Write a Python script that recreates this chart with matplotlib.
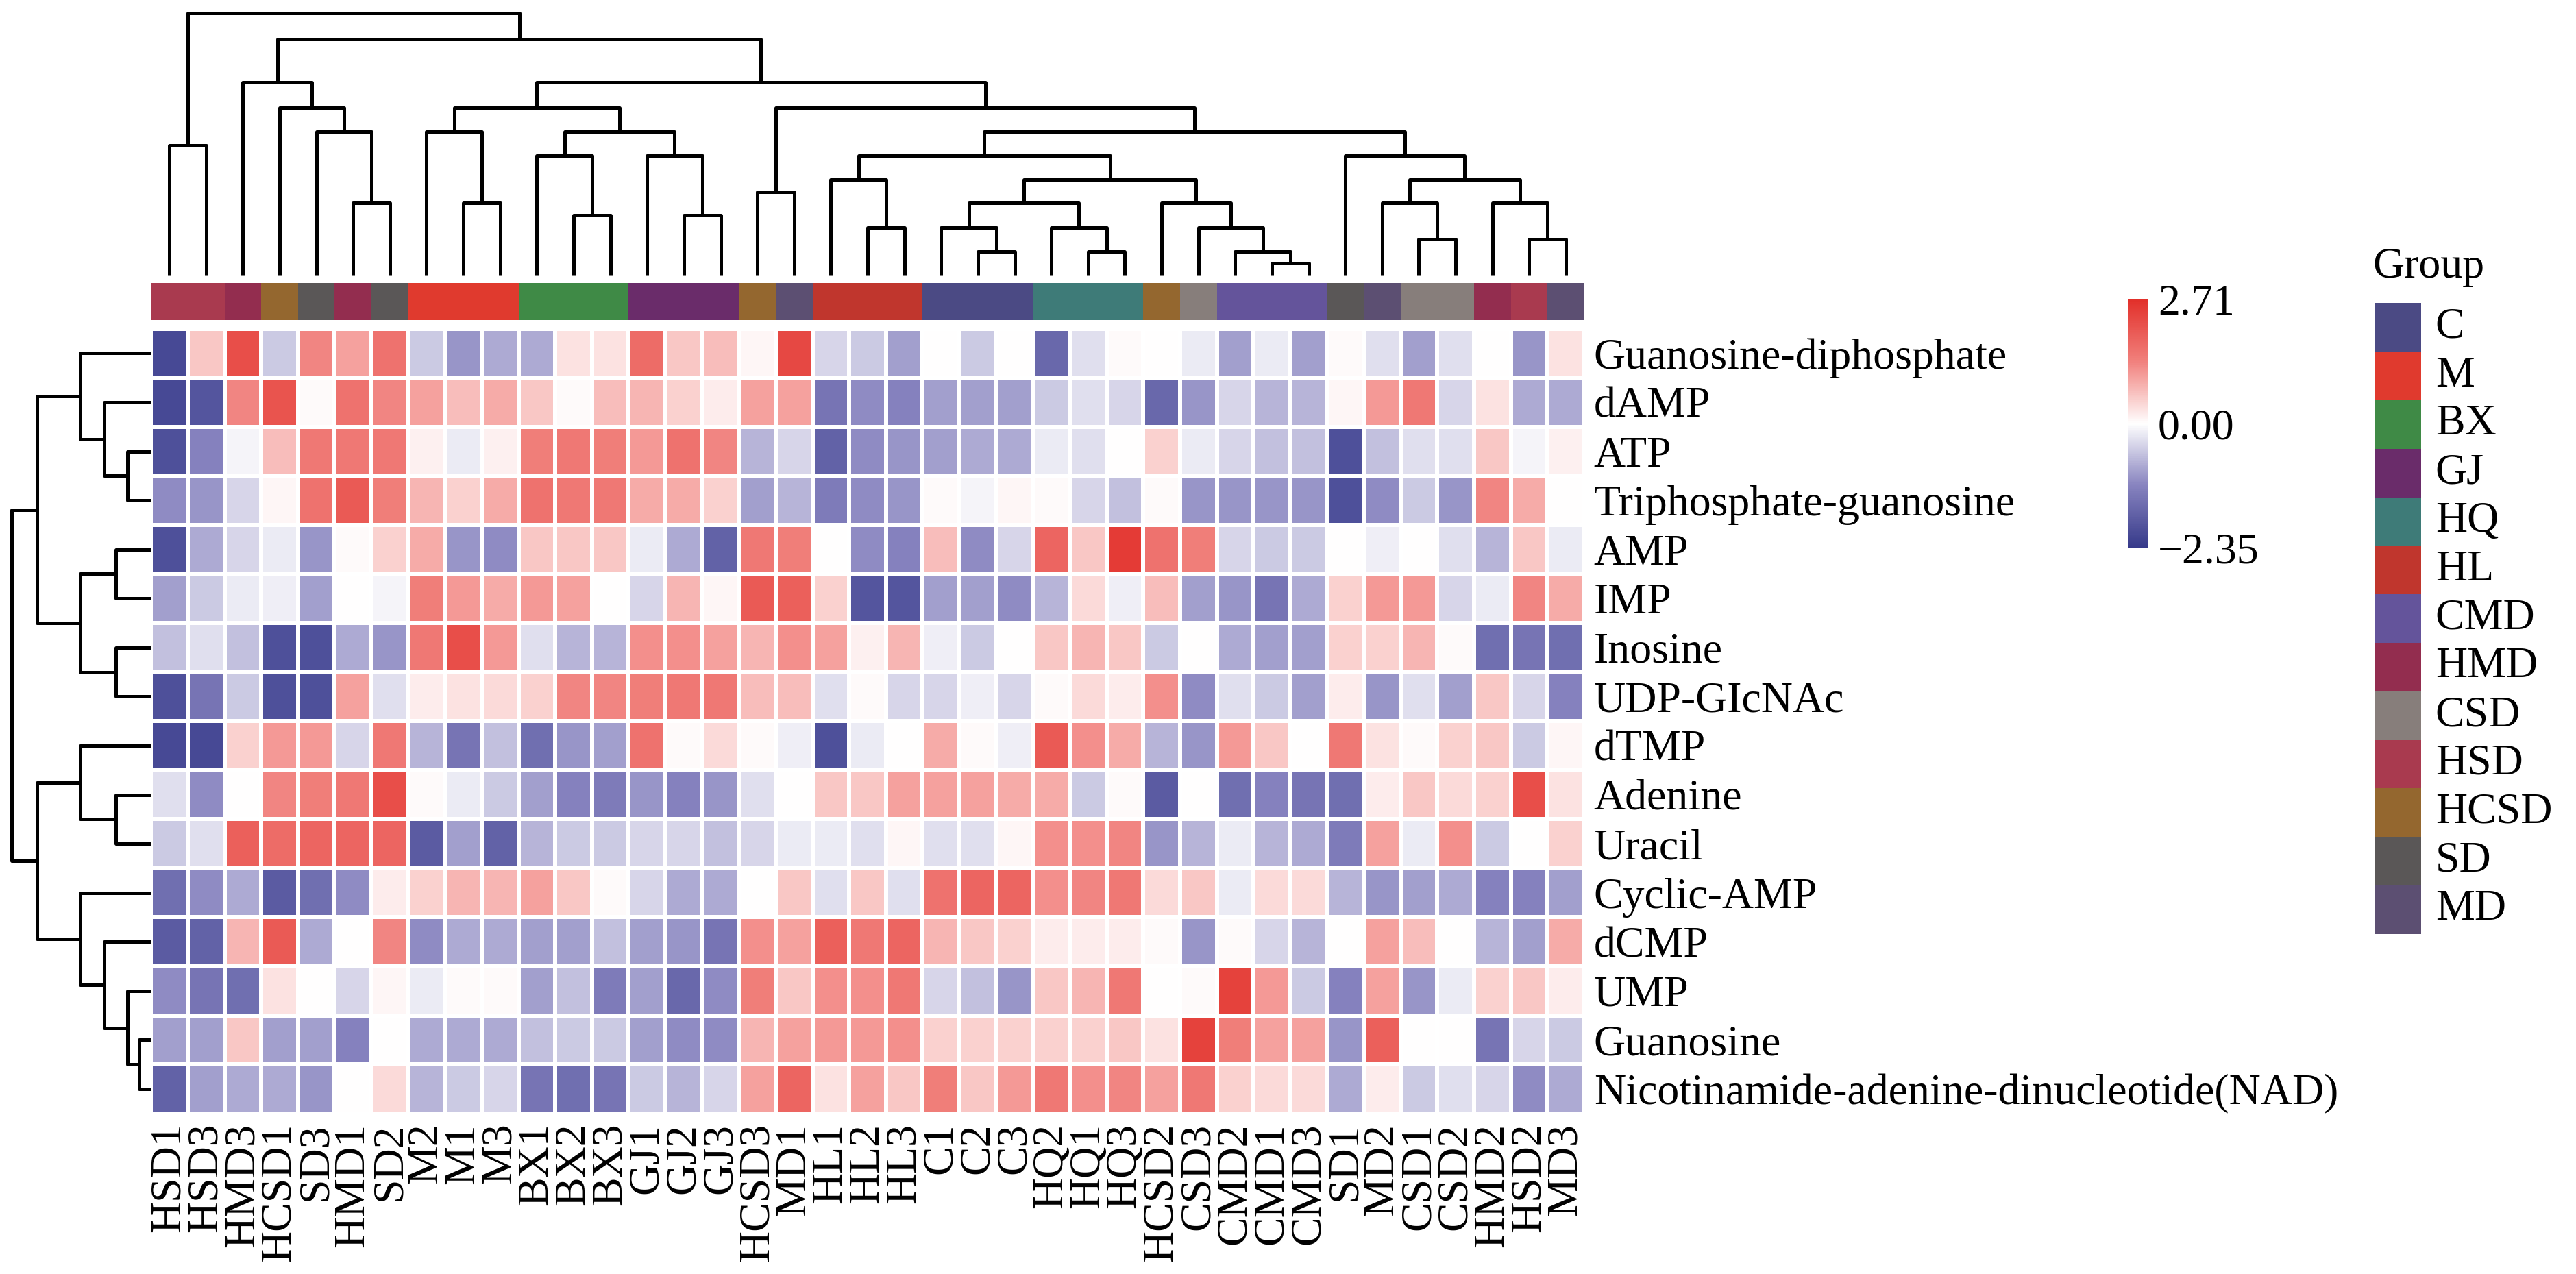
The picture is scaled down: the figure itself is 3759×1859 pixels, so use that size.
import numpy as np
import matplotlib
matplotlib.use("Agg")
import matplotlib.pyplot as plt
from matplotlib.colors import LinearSegmentedColormap, TwoSlopeNorm, ListedColormap

plt.rcParams['font.family'] = ['Liberation Serif', 'DejaVu Serif']

# samples (columns) in dendrogram order and their group
samples = ["HSD1", "HSD3", "HMD3", "HCSD1", "SD3", "HMD1", "SD2", "M2", "M1", "M3",
           "BX1", "BX2", "BX3", "GJ1", "GJ2", "GJ3", "HCSD3", "MD1", "HL1", "HL2",
           "HL3", "C1", "C2", "C3", "HQ2", "HQ1", "HQ3", "HCSD2", "CSD3", "CMD2",
           "CMD1", "CMD3", "SD1", "MD2", "CSD1", "CSD2", "HMD2", "HSD2", "MD3"]
sample_group = ["HSD", "HSD", "HMD", "HCSD", "SD", "HMD", "SD", "M", "M", "M",
                "BX", "BX", "BX", "GJ", "GJ", "GJ", "HCSD", "MD", "HL", "HL",
                "HL", "C", "C", "C", "HQ", "HQ", "HQ", "HCSD", "CSD", "CMD",
                "CMD", "CMD", "SD", "MD", "CSD", "CSD", "HMD", "HSD", "MD"]

metabolites = ["Guanosine-diphosphate", "dAMP", "ATP", "Triphosphate-guanosine", "AMP",
               "IMP", "Inosine", "UDP-GIcNAc", "dTMP", "Adenine", "Uracil", "Cyclic-AMP",
               "dCMP", "UMP", "Guanosine", "Nicotinamide-adenine-dinucleotide(NAD)"]

group_names = ["C", "M", "BX", "GJ", "HQ", "HL", "CMD", "HMD", "CSD", "HSD", "HCSD", "SD", "MD"]
group_colors = ["#4b4a84", "#e03a2e", "#3f8a46", "#6a2c6a", "#3e7b78", "#c0362d", "#64549b",
                "#932d4f", "#877e7b", "#a93a4f", "#94672f", "#5a5757", "#5c4f72"]

# scaled values, one list per metabolite (same column order as samples)
v_gdp = [-2.1, 0.6, 2.2, -0.5, 1.3, 1.0, 1.6, -0.5, -1.0, -0.8,
         -0.8, 0.3, 0.3, 1.7, 0.6, 0.7, 0.1, 2.3, -0.4, -0.5,
         -0.9, 0.0, -0.5, 0.0, -1.6, -0.3, 0.05, 0.0, -0.2, -0.9,
         -0.2, -0.9, 0.05, -0.3, -0.9, -0.3, 0.0, -1.0, 0.3]
v_damp = [-2.1, -1.9, 1.3, 2.1, 0.05, 1.6, 1.3, 1.0, 0.7, 0.9,
          0.6, 0.05, 0.7, 0.8, 0.5, 0.2, 1.0, 1.0, -1.4, -1.1,
          -1.2, -0.9, -0.9, -0.9, -0.5, -0.3, -0.4, -1.6, -1.0, -0.4,
          -0.7, -0.7, 0.1, 1.1, 1.5, -0.4, 0.3, -0.8, -0.8]
v_atp = [-2.0, -1.2, -0.1, 0.7, 1.5, 1.5, 1.5, 0.15, -0.2, 0.15,
         1.4, 1.5, 1.4, 1.1, 1.6, 1.3, -0.7, -0.4, -1.7, -1.1,
         -1.0, -0.9, -0.8, -0.8, -0.2, -0.3, 0.0, 0.5, -0.2, -0.4,
         -0.6, -0.6, -2.0, -0.6, -0.3, -0.3, 0.6, -0.1, 0.15]
v_gtp = [-1.1, -1.0, -0.4, 0.1, 1.6, 2.0, 1.4, 0.8, 0.5, 0.9,
         1.6, 1.5, 1.5, 0.9, 0.9, 0.5, -0.9, -0.7, -1.3, -1.1,
         -1.0, 0.05, -0.1, 0.1, 0.05, -0.4, -0.6, 0.05, -1.0, -1.0,
         -1.0, -1.0, -2.0, -1.1, -0.5, -1.0, 1.3, 0.9, 0.0]
v_amp = [-2.0, -0.8, -0.4, -0.2, -1.0, 0.05, 0.5, 0.9, -1.0, -1.1,
         0.6, 0.6, 0.6, -0.2, -0.8, -1.7, 1.5, 1.4, 0.0, -1.1,
         -1.2, 0.7, -1.1, -0.4, 1.8, 0.6, 2.5, 1.6, 1.4, -0.4,
         -0.5, -0.5, 0.0, -0.15, 0.0, -0.3, -0.7, 0.6, -0.2]
v_imp = [-0.9, -0.5, -0.2, -0.15, -0.9, 0.0, -0.1, 1.4, 1.1, 0.9,
         1.1, 1.0, 0.0, -0.4, 0.8, 0.1, 2.0, 1.9, 0.5, -1.9,
         -1.9, -0.9, -0.9, -1.1, -0.7, 0.4, -0.15, 0.7, -0.9, -1.0,
         -1.4, -0.8, 0.5, 1.1, 1.1, -0.4, -0.2, 1.3, 0.9]
v_inosine = [-0.6, -0.3, -0.6, -2.0, -2.0, -0.8, -1.0, 1.5, 2.2, 1.1,
             -0.3, -0.7, -0.7, 1.2, 1.2, 1.0, 0.8, 1.2, 1.0, 0.15,
             0.8, -0.15, -0.5, 0.0, 0.6, 0.8, 0.6, -0.5, 0.0, -0.8,
             -0.9, -0.9, 0.5, 0.5, 0.8, 0.05, -1.5, -1.4, -1.5]
v_udp = [-2.0, -1.4, -0.5, -2.0, -2.0, 1.0, -0.3, 0.2, 0.3, 0.4,
         0.5, 1.3, 1.3, 1.4, 1.5, 1.5, 0.7, 0.7, -0.3, 0.05,
         -0.4, -0.4, -0.15, -0.4, 0.05, 0.4, 0.2, 1.2, -1.1, -0.3,
         -0.5, -0.9, 0.2, -1.0, -0.3, -0.9, 0.6, -0.4, -1.2]
v_dtmp = [-2.1, -2.1, 0.5, 1.1, 1.1, -0.4, 1.5, -0.7, -1.4, -0.6,
          -1.5, -1.0, -0.9, 1.6, 0.05, 0.4, 0.05, -0.15, -2.0, -0.2,
          0.0, 0.9, 0.05, -0.15, 2.0, 1.2, 0.9, -0.7, -1.0, 1.1,
          0.6, 0.0, 1.5, 0.3, 0.05, 0.5, 0.6, -0.5, 0.1]
v_adenine = [-0.3, -1.1, 0.0, 1.3, 1.4, 1.5, 2.2, 0.05, -0.2, -0.5,
             -0.9, -1.2, -1.3, -1.0, -1.2, -1.0, -0.3, 0.0, 0.6, 0.6,
             1.0, 1.0, 1.0, 0.9, 0.9, -0.5, 0.05, -1.8, 0.0, -1.5,
             -1.2, -1.4, -1.5, 0.2, 0.6, 0.4, 0.5, 2.2, 0.3]
v_uracil = [-0.5, -0.3, 1.9, 1.7, 1.8, 1.8, 1.8, -1.8, -0.9, -1.7,
            -0.7, -0.5, -0.5, -0.4, -0.4, -0.6, -0.4, -0.2, -0.2, -0.3,
            0.1, -0.3, -0.3, 0.1, 1.2, 1.2, 1.3, -1.0, -0.7, -0.2,
            -0.7, -0.8, -1.3, 1.0, -0.2, 1.2, -0.5, 0.0, 0.5]
v_camp = [-1.5, -1.1, -0.8, -1.8, -1.5, -1.1, 0.2, 0.5, 0.8, 0.8,
          1.0, 0.6, 0.05, -0.4, -0.8, -0.8, 0.0, 0.6, -0.3, 0.6,
          -0.3, 1.6, 1.8, 1.8, 1.2, 1.3, 1.5, 0.4, 0.6, -0.2,
          0.4, 0.4, -0.7, -1.0, -0.9, -0.8, -1.2, -1.2, -0.9]
v_dcmp = [-1.8, -1.7, 0.8, 2.0, -0.8, 0.0, 1.3, -1.1, -0.8, -0.8,
          -0.9, -0.9, -0.6, -0.9, -1.0, -1.4, 1.2, 1.0, 1.9, 1.5,
          1.8, 0.8, 0.6, 0.5, 0.2, 0.2, 0.2, 0.05, -1.0, 0.05,
          -0.4, -0.7, 0.0, 1.0, 0.7, 0.0, -0.7, -0.9, 0.9]
v_ump = [-1.1, -1.4, -1.5, 0.3, 0.0, -0.4, 0.1, -0.2, 0.05, 0.05,
         -0.9, -0.6, -1.3, -0.9, -1.6, -1.1, 1.4, 0.6, 1.2, 1.2,
         1.5, -0.4, -0.6, -1.0, 0.6, 0.8, 1.5, 0.0, 0.05, 2.4,
         1.1, -0.5, -1.2, 1.0, -1.0, -0.2, 0.5, 0.6, 0.2]
v_guanosine = [-0.9, -0.9, 0.6, -0.9, -0.9, -1.2, 0.0, -0.8, -0.8, -0.8,
               -0.6, -0.5, -0.5, -0.9, -1.1, -1.1, 0.8, 1.0, 1.1, 1.1,
               1.2, 0.5, 0.5, 0.5, 0.5, 0.5, 0.6, 0.3, 2.4, 1.4,
               1.0, 1.0, -1.0, 1.9, 0.0, 0.0, -1.4, -0.4, -0.5]
v_nad = [-1.7, -0.9, -0.8, -0.8, -1.0, 0.0, 0.4, -0.7, -0.5, -0.4,
         -1.4, -1.5, -1.4, -0.5, -0.7, -0.4, 1.0, 1.8, 0.3, 1.0,
         0.6, 1.4, 0.6, 1.1, 1.5, 1.2, 1.3, 1.0, 1.5, 0.5,
         0.4, 0.4, -0.8, 0.2, -0.5, -0.3, -0.4, -1.1, -0.8]

vmin, vmax = -2.35, 2.71

# column clustering: (node, left, right, height)
col_merges = [
    ("a", "HSD1", "HSD3", 5.78), ("b", "HMD1", "SD2", 3.20), ("c", "SD3", "b", 6.38),
    ("d", "HCSD1", "c", 7.45), ("e", "HMD3", "d", 8.55), ("f", "M1", "M3", 3.20),
    ("g", "M2", "f", 6.38), ("h", "BX2", "BX3", 2.65), ("i", "BX1", "h", 5.30),
    ("j", "GJ2", "GJ3", 2.65), ("k", "GJ1", "j", 5.30), ("l", "i", "k", 6.38),
    ("m", "g", "l", 7.45), ("n", "HCSD3", "MD1", 3.70), ("o", "HL2", "HL3", 2.12),
    ("p", "HL1", "o", 4.25), ("q", "C2", "C3", 1.05), ("r", "C1", "q", 2.12),
    ("s", "HQ1", "HQ3", 1.05), ("t", "HQ2", "s", 2.12), ("u", "r", "t", 3.20),
    ("v", "CMD1", "CMD3", 0.52), ("w", "CMD2", "v", 1.05), ("x", "CSD3", "w", 2.12),
    ("y", "HCSD2", "x", 3.20), ("z", "u", "y", 4.25), ("A", "p", "z", 5.30),
    ("B", "CSD1", "CSD2", 1.60), ("C", "MD2", "B", 3.20), ("D", "HSD2", "MD3", 1.60),
    ("E", "HMD2", "D", 3.20), ("F", "C", "E", 4.25), ("G", "SD1", "F", 5.30),
    ("H", "A", "G", 6.38), ("I", "n", "H", 7.45), ("J", "m", "I", 8.55),
    ("K", "e", "J", 10.48), ("L", "a", "K", 11.65),
]

# row clustering
row_merges = [
    ("a", "ATP", "Triphosphate-guanosine", 1.05), ("b", "dAMP", "a", 2.10),
    ("c", "Guanosine-diphosphate", "b", 3.20), ("d", "AMP", "IMP", 1.60),
    ("e", "Inosine", "UDP-GIcNAc", 1.60), ("f", "d", "e", 3.20), ("g", "c", "f", 5.15),
    ("h", "Adenine", "Uracil", 1.60), ("i", "dTMP", "h", 3.20),
    ("j", "Guanosine", "Nicotinamide-adenine-dinucleotide(NAD)", 0.55),
    ("k", "UMP", "j", 1.05), ("l", "dCMP", "k", 2.10), ("m", "Cyclic-AMP", "l", 3.20),
    ("n", "i", "m", 5.15), ("o", "g", "n", 6.30),
]

data = np.array([v_gdp, v_damp, v_atp, v_gtp, v_amp, v_imp, v_inosine, v_udp,
                 v_dtmp, v_adenine, v_uracil, v_camp, v_dcmp, v_ump, v_guanosine, v_nad])


def draw_dendro(ax, merges, leaves, side):
    # leaves sit at index + 0.5 so they line up with the heatmap cells
    pos = {name: i + 0.5 for i, name in enumerate(leaves)}
    hgt = {name: 0.0 for name in leaves}
    for node, a, b, h in merges:
        xs = [pos[a], pos[a], pos[b], pos[b]]
        ys = [hgt[a], h, h, hgt[b]]
        if side == "top":
            ax.plot(xs, ys, color="black", lw=3.6, solid_capstyle="butt", clip_on=False)
        else:
            ax.plot(ys, xs, color="black", lw=3.6, solid_capstyle="butt", clip_on=False)
        pos[node] = (pos[a] + pos[b]) / 2
        hgt[node] = h
    return hgt[merges[-1][0]]


fig = plt.figure(figsize=(37.59, 18.59), dpi=100)

hm_left, hm_bottom, hm_w, hm_h = 0.0586, 0.126, 0.5564, 0.616
fs = 46

# heatmap
cmap = LinearSegmentedColormap.from_list(
    "bwr2", ["#363a8a", "#8783bf", "#ffffff", "#f1817d", "#e2302a"])
norm = TwoSlopeNorm(vmin=vmin, vcenter=0, vmax=vmax)
ax = fig.add_axes([hm_left, hm_bottom, hm_w, hm_h])
mesh = ax.pcolormesh(np.arange(len(samples) + 1), np.arange(len(metabolites) + 1), data,
                     cmap=cmap, norm=norm, edgecolors="white", linewidth=3)
ax.set_xlim(0, len(samples))
ax.set_ylim(len(metabolites), 0)
ax.set_xticks(np.arange(len(samples)) + 0.5)
ax.set_xticklabels(samples, rotation=90, fontsize=fs)
ax.set_yticks(np.arange(len(metabolites)) + 0.5)
ax.set_yticklabels(metabolites, fontsize=fs)
ax.yaxis.tick_right()
ax.tick_params(axis="x", length=0, pad=10)
ax.tick_params(axis="y", length=0, pad=10)
for s in ax.spines.values():
    s.set_visible(False)

# group color bar above the heatmap
axg = fig.add_axes([hm_left, 0.749, hm_w, 0.029])
gidx = [group_names.index(g) for g in sample_group]
axg.pcolormesh(np.arange(len(samples) + 1), [0, 1], [gidx],
               cmap=ListedColormap(group_colors), vmin=-0.5, vmax=len(group_names) - 0.5)
axg.set_xlim(0, len(samples))
axg.axis("off")

# column dendrogram
axt = fig.add_axes([hm_left, 0.784, hm_w, 0.206])
top_h = draw_dendro(axt, col_merges, samples, "top")
axt.set_xlim(0, len(samples))
axt.set_ylim(0, top_h)
axt.axis("off")

# row dendrogram
axl = fig.add_axes([0.0045, hm_bottom, hm_left - 0.0045, hm_h])
left_h = draw_dendro(axl, row_merges, metabolites, "left")
axl.set_ylim(len(metabolites), 0)
axl.set_xlim(left_h, 0)
axl.axis("off")

# colour scale
cax = fig.add_axes([0.826, 0.57, 0.008, 0.195])
cb = fig.colorbar(mesh, cax=cax, ticks=[vmin, 0, vmax])
cb.set_ticklabels(["\u22122.35", "0.00", "2.71"])
cb.outline.set_visible(False)
cax.tick_params(length=0, labelsize=fs, pad=10)

# group legend
axk = fig.add_axes([0.922, 0.267, 0.018, 0.495])
for i, c in enumerate(group_colors):
    axk.barh(i + 0.5, 1, height=1, left=0, color=c, edgecolor="none")
    axk.text(1.3, i + 0.5, group_names[i], va="center", ha="left", fontsize=fs, clip_on=False)
axk.set_xlim(0, 1)
axk.set_ylim(len(group_names), 0)
axk.axis("off")
fig.text(0.921, 0.79, "Group", fontsize=fs, va="center", ha="left")

fig.savefig("out.png", dpi=100)
